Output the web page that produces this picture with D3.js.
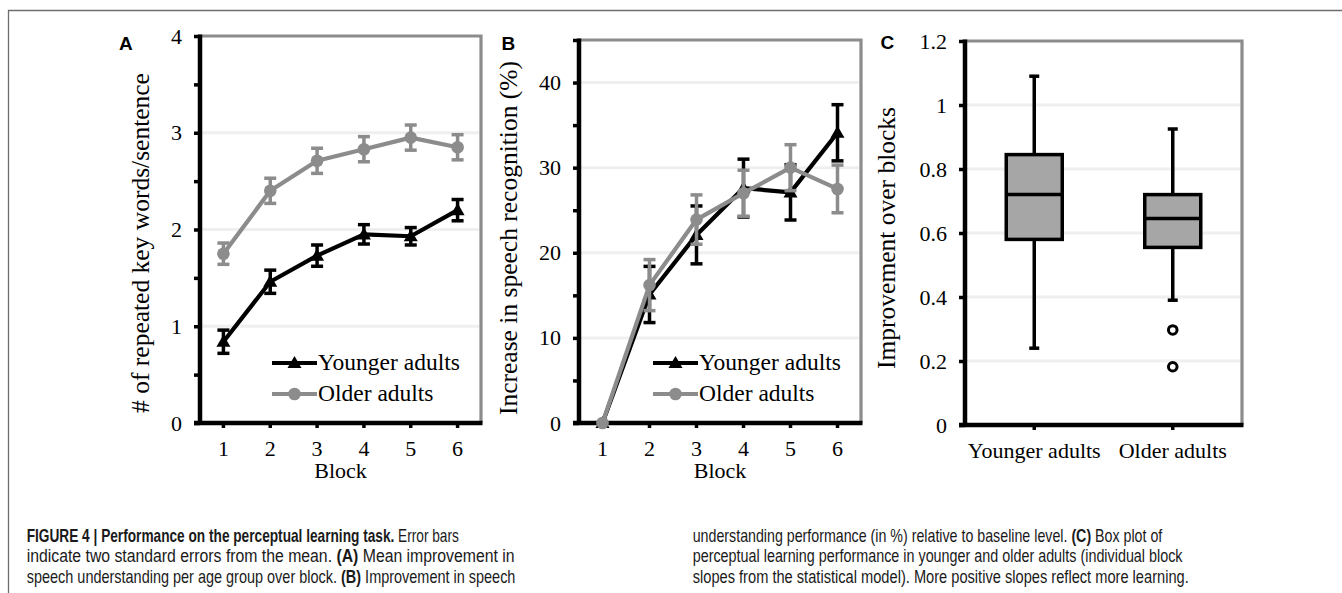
<!DOCTYPE html>
<html>
<head>
<meta charset="utf-8">
<script src="https://cdn.jsdelivr.net/npm/d3@7"></script>
<style>
  html, body { margin: 0; padding: 0; background: #fff; }
  svg { display: block; }
  .serif { font-family: "Liberation Serif", "Times New Roman", serif; fill: #000; }
</style>
</head>
<body>
<svg id="chart" width="1342" height="593"></svg>
<script>
// ---------------- DATA ----------------
const blocks = [1, 2, 3, 4, 5, 6];
const seriesNames = ["Younger adults", "Older adults"];

// Panel A: # of repeated key words/sentence
const aYounger = [0.84, 1.46, 1.73, 1.95, 1.93, 2.20];
const aYoungerErr = [0.12, 0.12, 0.11, 0.10, 0.09, 0.11];
const aOlder = [1.75, 2.40, 2.71, 2.83, 2.95, 2.85];
const aOlderErr = [0.11, 0.13, 0.13, 0.13, 0.13, 0.13];
const aTicks = [0, 1, 2, 3, 4];
const aMinorTicks = [0.5, 1.5, 2.5, 3.5];

// Panel B: Increase in speech recognition (%)
const bYounger = [0, 15.1, 22.1, 27.6, 27.1, 34.1];
const bYoungerErr = [0, 3.3, 3.4, 3.4, 3.25, 3.3];
const bOlder = [0, 16.2, 23.9, 27.0, 30.0, 27.5];
const bOlderErr = [0, 3.0, 2.9, 2.7, 2.7, 2.8];
const bTicks = [0, 10, 20, 30, 40];
const bMinorTicks = [5, 15, 25, 35, 45];

// Panel C: box plot of improvement over blocks
const boxGroups = ["Younger adults", "Older adults"];
const boxMin = [0.24, 0.39];
const boxQ1 = [0.58, 0.555];
const boxMedian = [0.72, 0.645];
const boxQ3 = [0.845, 0.72];
const boxMax = [1.09, 0.925];
const boxOutliers = [[], [0.297, 0.182]];
const cTicks = [0, 0.2, 0.4, 0.6, 0.8, 1, 1.2];

// Caption
const captionCol1 = [
  [["b", "FIGURE 4 | Performance on the perceptual learning task."], ["n", " Error bars"]],
  [["n", "indicate two standard errors from the mean. "], ["b", "(A)"], ["n", " Mean improvement in"]],
  [["n", "speech understanding per age group over block. "], ["b", "(B)"], ["n", " Improvement in speech"]]
];
const captionCol2 = [
  [["n", "understanding performance (in %) relative to baseline level. "], ["b", "(C)"], ["n", " Box plot of"]],
  [["n", "perceptual learning performance in younger and older adults (individual block"]],
  [["n", "slopes from the statistical model). More positive slopes reflect more learning."]]
];

// ---------------- STYLE ----------------
const GRAY = "#8c8c8c";
const GRID = "#efefef";
const AXIS_W = 4.5;
const TICK_FS = 22;
const TITLE_FS = 25.5;
const LEGEND_FS = 23.5;

const svg = d3.select("#chart");
svg.append("rect").attr("width", 1342).attr("height", 593).attr("fill", "#fff");

// outer frame
svg.append("path")
  .attr("d", "M8.5,600 V10.5 H1350")
  .attr("fill", "none").attr("stroke", "#6e6e6e").attr("stroke-width", 1.3);

function frame(g, x0, x1, y0, y1) {
  g.append("path")
    .attr("d", `M${x0},${y0} H${x1} V${y1}`)
    .attr("fill", "none").attr("stroke", GRAY).attr("stroke-width", 3.2);
}

function gridLines(g, y, vals, x0, x1) {
  g.selectAll(null).data(vals).enter().append("line")
    .attr("x1", x0 + 2).attr("x2", x1 - 2)
    .attr("y1", d => y(d)).attr("y2", d => y(d))
    .attr("stroke", GRID).attr("stroke-width", 3);
}

function styleAxis(sel) {
  sel.select(".domain").attr("stroke", "#000").attr("stroke-width", AXIS_W);
  sel.selectAll(".tick line").attr("stroke", "#000").attr("stroke-width", 3.5);
  sel.selectAll(".tick text")
    .attr("class", "serif")
    .style("font-size", TICK_FS + "px")
    .attr("fill", "#000");
}

function yAxis(g, y, x0, major, minor, fmt) {
  if (minor) {
    g.append("g").attr("transform", `translate(${x0},0)`)
      .call(d3.axisLeft(y).tickValues(minor).tickSize(6).tickSizeOuter(0).tickFormat(""))
      .call(s => { s.select(".domain").remove(); s.selectAll(".tick line").attr("stroke", "#000").attr("stroke-width", 3.5); });
  }
  const ax = g.append("g").attr("transform", `translate(${x0},0)`)
    .call(d3.axisLeft(y).tickValues(major).tickSize(6).tickPadding(12).tickSizeOuter(0).tickFormat(fmt || d3.format("")));
  styleAxis(ax);
  ax.select(".domain").attr("d", `M0,${y.range()[0] + 2}V${y.range()[1] - 1.5}`);
}

function xAxis(g, x, y1, x0, x1) {
  const ax = g.append("g").attr("transform", `translate(0,${y1})`)
    .call(d3.axisBottom(x).tickSize(5).tickPadding(12).tickSizeOuter(0));
  styleAxis(ax);
  ax.select(".domain").attr("d", `M${x0 - 6},0H${x1 + 1.5}`);
  return ax;
}

function panelLabel(g, txt, x, y) {
  g.append("text").attr("x", x).attr("y", y).text(txt)
    .attr("font-family", "'Liberation Sans', Arial, sans-serif")
    .attr("font-weight", "bold").attr("font-size", 19).attr("fill", "#000");
}

function yTitle(g, txt, bx, cy) {
  g.append("text").attr("class", "serif")
    .attr("transform", `translate(${bx},${cy}) rotate(-90)`)
    .attr("text-anchor", "middle")
    .style("font-size", TITLE_FS + "px")
    .text(txt);
}

function xTitle(g, txt, cx, by) {
  g.append("text").attr("class", "serif")
    .attr("x", cx).attr("y", by).attr("text-anchor", "middle")
    .style("font-size", "22px")
    .text(txt);
}

function drawMarker(g, type, px, py, color) {
  if (type === "tri") {
    g.append("path").attr("d", d3.symbol(d3.symbolTriangle, 85)()).attr("transform", `translate(${px},${py + 1})`)
      .attr("fill", color);
  } else {
    g.append("circle").attr("cx", px).attr("cy", py).attr("r", 6.3).attr("fill", color);
  }
}

function linePanel(opt) {
  const g = svg.append("g");
  const { x0, x1, y0, y1, ymax } = opt;
  const x = d3.scaleBand().domain(blocks).range([x0, x1]);
  const cx = d => x(d) + x.bandwidth() / 2;
  const y = d3.scaleLinear().domain([0, ymax]).range([y1, y0]);

  gridLines(g, y, opt.grid, x0, x1);
  frame(g, x0, x1, y0, y1);
  xAxis(g, x, y1, x0, x1);
  yAxis(g, y, x0, opt.major, opt.minor);

  const series = [
    { name: seriesNames[0], vals: opt.young, err: opt.youngErr, color: "#000", marker: "tri" },
    { name: seriesNames[1], vals: opt.old, err: opt.oldErr, color: GRAY, marker: "circ" }
  ];
  const line = d3.line().x((d, i) => cx(blocks[i])).y(d => y(d));

  series.forEach(s => {
    const sg = g.append("g");
    s.vals.forEach((v, i) => {
      const e = s.err[i];
      if (!e) return;
      const px = cx(blocks[i]);
      sg.append("line").attr("x1", px).attr("x2", px).attr("y1", y(v - e)).attr("y2", y(v + e))
        .attr("stroke", s.color).attr("stroke-width", 3.5);
      [v - e, v + e].forEach(t => {
        sg.append("line").attr("x1", px - 6).attr("x2", px + 6).attr("y1", y(t)).attr("y2", y(t))
          .attr("stroke", s.color).attr("stroke-width", 3.5);
      });
    });
    sg.append("path").datum(s.vals).attr("d", line)
      .attr("fill", "none").attr("stroke", s.color).attr("stroke-width", 4.2).attr("stroke-linejoin", "round");
    s.vals.forEach((v, i) => drawMarker(sg, s.marker, cx(blocks[i]), y(v), s.color));
  });

  series.forEach((s, i) => {
    const ly = opt.legY + i * 31;
    g.append("line").attr("x1", opt.legX).attr("x2", opt.legX + 45).attr("y1", ly).attr("y2", ly)
      .attr("stroke", s.color).attr("stroke-width", 4.2);
    drawMarker(g, s.marker, opt.legX + 22.5, ly, s.color);
    g.append("text").attr("class", "serif").attr("x", opt.legX + 46).attr("y", ly + 6.5)
      .style("font-size", LEGEND_FS + "px").text(s.name);
  });

  panelLabel(g, opt.label, opt.labelX, 50);
  yTitle(g, opt.yTitle, opt.yTitleX, opt.yTitleY);
  xTitle(g, "Block", (x0 + x1) / 2, 478);
}

linePanel({
  x0: 200, x1: 481, y0: 36, y1: 423, ymax: 4,
  grid: [1, 2, 3], major: aTicks, minor: aMinorTicks,
  young: aYounger, youngErr: aYoungerErr, old: aOlder, oldErr: aOlderErr,
  legX: 272, legY: 363, label: "A", labelX: 119,
  yTitle: "# of repeated key words/sentence", yTitleX: 149, yTitleY: 243
});

linePanel({
  x0: 579, x1: 861, y0: 40, y1: 423, ymax: 45,
  grid: [10, 20, 30, 40], major: bTicks, minor: bMinorTicks,
  young: bYounger, youngErr: bYoungerErr, old: bOlder, oldErr: bOlderErr,
  legX: 653, legY: 363, label: "B", labelX: 501.5,
  yTitle: "Increase in speech recognition (%)", yTitleX: 517, yTitleY: 238
});

// ---------------- Panel C ----------------
(function () {
  const g = svg.append("g");
  const x0 = 965, x1 = 1242, y0 = 41, y1 = 425;
  const x = d3.scaleBand().domain(boxGroups).range([x0, x1]);
  const y = d3.scaleLinear().domain([0, 1.2]).range([y1, y0]);
  gridLines(g, y, [0.2, 0.4, 0.6, 0.8, 1.0], x0, x1);
  frame(g, x0, x1, y0, y1);
  xAxis(g, x, y1, x0, x1);
  yAxis(g, y, x0, cTicks, null, d3.format(""));

  const bw = 56;
  boxGroups.forEach((grp, i) => {
    const c = x(grp) + x.bandwidth() / 2;
    g.append("line").attr("x1", c).attr("x2", c).attr("y1", y(boxMin[i])).attr("y2", y(boxQ1[i]))
      .attr("stroke", "#000").attr("stroke-width", 3.5);
    g.append("line").attr("x1", c).attr("x2", c).attr("y1", y(boxQ3[i])).attr("y2", y(boxMax[i]))
      .attr("stroke", "#000").attr("stroke-width", 3.5);
    [boxMin[i], boxMax[i]].forEach(v => {
      g.append("line").attr("x1", c - 5).attr("x2", c + 5).attr("y1", y(v)).attr("y2", y(v))
        .attr("stroke", "#000").attr("stroke-width", 3.5);
    });
    g.append("rect").attr("x", c - bw / 2).attr("width", bw)
      .attr("y", y(boxQ3[i])).attr("height", y(boxQ1[i]) - y(boxQ3[i]))
      .attr("fill", "#a6a6a6").attr("stroke", "#000").attr("stroke-width", 3.5);
    g.append("line").attr("x1", c - bw / 2).attr("x2", c + bw / 2)
      .attr("y1", y(boxMedian[i])).attr("y2", y(boxMedian[i]))
      .attr("stroke", "#000").attr("stroke-width", 3.5);
    boxOutliers[i].forEach(v => {
      g.append("circle").attr("cx", c).attr("cy", y(v)).attr("r", 4.3)
        .attr("fill", "#fff").attr("stroke", "#000").attr("stroke-width", 3);
    });
  });

  panelLabel(g, "C", 880.5, 49);
  yTitle(g, "Improvement over blocks", 895, 238);
})();

// ---------------- Caption ----------------
function caption(lines, x, widths) {
  lines.forEach((parts, i) => {
    const by = 542 + i * 20.4;
    const t = svg.append("text")
      .attr("x", 0).attr("y", 0)
      .attr("font-family", "'Liberation Sans Narrow', 'Arial Narrow', 'Liberation Sans', Arial, sans-serif")
      .attr("font-size", 17.5).attr("fill", "#1a1a1a");
    parts.forEach(p => {
      t.append("tspan").attr("font-weight", p[0] === "b" ? "bold" : "normal").text(p[1]);
    });
    const w = t.node().getComputedTextLength();
    const sx = widths[i] / w;
    t.attr("transform", `translate(${x},${by}) scale(${sx},1)`);
  });
}
caption(captionCol1, 26.7, [432.7, 488.3, 489]);
caption(captionCol2, 692.7, [470, 490, 496.3]);
</script>
</body>
</html>
